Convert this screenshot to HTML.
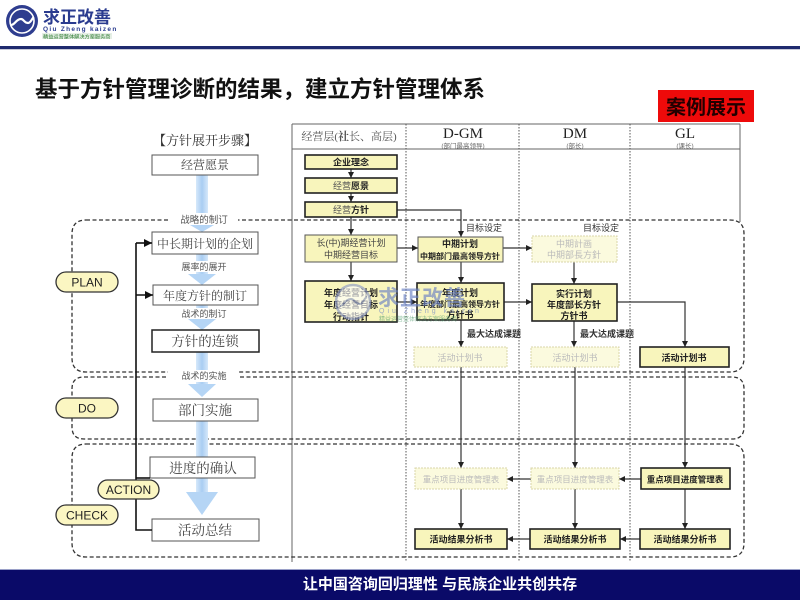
<!DOCTYPE html>
<html><head><meta charset="utf-8"><style>
html,body{margin:0;padding:0;background:#fff;}
svg{display:block;}
text{font-family:"Liberation Sans","Noto Sans CJK SC",sans-serif;}
.sf{font-family:"Liberation Serif","Noto Serif CJK SC",serif;}
</style></head><body>
<svg width="800" height="600" viewBox="0 0 800 600" xmlns="http://www.w3.org/2000/svg">
<defs>
<marker id="a" viewBox="0 0 10 10" refX="10" refY="5" markerWidth="6" markerHeight="6" markerUnits="userSpaceOnUse" orient="auto"><path d="M0,0 L10,5 L0,10 z" fill="#222"/></marker>
<marker id="b" viewBox="0 0 10 10" refX="10" refY="5" markerWidth="8" markerHeight="8" markerUnits="userSpaceOnUse" orient="auto"><path d="M0,0 L10,5 L0,10 z" fill="#111"/></marker>
<linearGradient id="bl" x1="0" x2="1" y1="0" y2="0"><stop offset="0" stop-color="#d6e8fa"/><stop offset="0.5" stop-color="#a9cdf2"/><stop offset="1" stop-color="#d6e8fa"/></linearGradient>
</defs>

<!-- header -->
<circle cx="22" cy="21" r="16" fill="#2e3d8f"/>
<circle cx="22" cy="21" r="12" fill="none" stroke="#fff" stroke-width="1.6"/>
<path d="M11,25 C15,25 16,19 21,19 C24,19 24,23 28,23 C31,23 32,18 34,17" fill="none" stroke="#fff" stroke-width="2.2"/>
<text x="43" y="23" font-size="17" font-weight="bold" fill="#2a3b8f">求正改善</text>
<text x="43" y="31" font-size="6.5" font-weight="bold" fill="#2a3b8f" letter-spacing="1.3">Qiu Zheng kaizen</text>
<rect x="42" y="33" width="70" height="6" fill="#e6efe6"/>
<text x="43" y="38.3" font-size="5.2" fill="#2e7d32">精益运营整体解决方案服务商</text>
<rect x="0" y="46" width="800" height="3" fill="#1f2a6e"/>
<rect x="0" y="49" width="800" height="1" fill="#c8cad8"/>

<!-- title -->
<text x="35" y="97" font-size="22.5" font-weight="bold" fill="#111">基于方针管理诊断的结果，建立方针管理体系</text>
<rect x="658" y="90" width="96" height="32" fill="#ee0a0a"/>
<text x="706" y="114" font-size="20" font-weight="bold" fill="#220000" text-anchor="middle">案例展示</text>

<!-- table structure -->
<g stroke="#666" stroke-width="1">
<line x1="292" y1="124" x2="740" y2="124"/>
<line x1="292" y1="149" x2="740" y2="149"/>
<line x1="292" y1="124" x2="292" y2="562"/>
<line x1="740" y1="124" x2="740" y2="222"/>
</g>
<g stroke="#555" stroke-width="1" stroke-dasharray="1.5,1.5">
<line x1="406" y1="124" x2="406" y2="562"/>
<line x1="519" y1="124" x2="519" y2="562"/>
<line x1="630" y1="124" x2="630" y2="562"/>
</g>
<text class="sf" x="349" y="140" font-size="11" fill="#555" text-anchor="middle">经营层(<tspan font-weight="bold">社</tspan>长、高层)</text>
<text class="sf" x="463" y="138" font-size="15" fill="#222" text-anchor="middle">D-GM</text>
<text x="463" y="148" font-size="6.5" fill="#666" text-anchor="middle">(部门最高领导)</text>
<text class="sf" x="575" y="138" font-size="15" fill="#222" text-anchor="middle">DM</text>
<text x="575" y="148" font-size="6.5" fill="#666" text-anchor="middle">(部长)</text>
<text class="sf" x="685" y="138" font-size="15" fill="#222" text-anchor="middle">GL</text>
<text x="685" y="148" font-size="6.5" fill="#666" text-anchor="middle">(课长)</text>

<!-- dashed regions -->
<g fill="none" stroke="#333" stroke-width="1.3" stroke-dasharray="4,2.5">
<path d="M86,220 L730,220 Q744,220 744,234 L744,358 Q744,372 730,372 L86,372 Q72,372 72,358 L72,234 Q72,220 86,220 Z"/>
<path d="M84,377 L732,377 Q744,377 744,389 L744,427 Q744,439 732,439 L84,439 Q72,439 72,427 L72,389 Q72,377 84,377 Z"/>
<path d="M86,444 L730,444 Q744,444 744,458 L744,543 Q744,557 730,557 L86,557 Q72,557 72,543 L72,458 Q72,444 86,444 Z"/>
</g>

<!-- left steps: blue arrows -->
<rect x="196" y="175" width="12" height="48" fill="url(#bl)"/>
<polygon points="190,225 214,225 202,232" fill="#b5d5f5"/>
<rect x="196" y="254" width="12" height="22" fill="url(#bl)"/>
<polygon points="188,274 216,274 202,285" fill="#b5d5f5"/>
<rect x="196" y="305" width="12" height="16" fill="url(#bl)"/>
<polygon points="188,319 216,319 202,330" fill="#b5d5f5"/>
<rect x="196" y="352" width="12" height="33" fill="url(#bl)"/>
<polygon points="188,384 216,384 202,397" fill="#b5d5f5"/>
<rect x="196" y="421" width="12" height="72" fill="url(#bl)"/>
<polygon points="186,492 218,492 202,515" fill="#b5d5f5"/>

<!-- step labels -->
<rect x="168" y="213" width="70" height="12" fill="#fff"/>
<text x="204" y="223" font-size="9.5" fill="#555" text-anchor="middle">战略的制订</text>
<rect x="172" y="261" width="64" height="11" fill="#fff"/>
<text x="204" y="270" font-size="9" fill="#555" text-anchor="middle">展率的展开</text>
<rect x="172" y="308" width="64" height="11" fill="#fff"/>
<text x="204" y="317" font-size="9" fill="#555" text-anchor="middle">战术的制订</text>
<rect x="168" y="370" width="70" height="12" fill="#fff"/>
<text x="204" y="379" font-size="9" fill="#555" text-anchor="middle">战术的实施</text>

<text class="sf" x="205" y="145" font-size="13" fill="#333" text-anchor="middle">【方针展开步骤】</text>
<g fill="#fff" stroke="#555" stroke-width="1">
<rect x="152" y="155" width="106" height="20"/>
<rect x="152" y="232" width="106" height="22"/>
<rect x="153" y="285" width="105" height="20"/>
<rect x="152" y="330" width="107" height="22" stroke="#222" stroke-width="1.5"/>
<rect x="153" y="399" width="105" height="22"/>
<rect x="150" y="457" width="105" height="21"/>
<rect x="152" y="519" width="107" height="22"/>
</g>
<g class="sf" font-size="12" fill="#444" text-anchor="middle">
<text class="sf" x="205" y="169">经营愿景</text>
<text class="sf" x="205" y="248">中长期计划的企划</text>
<text class="sf" x="205" y="300">年度方针的制订</text>
<text class="sf" x="205" y="346" font-size="13.5">方针的连锁</text>
<text class="sf" x="205" y="415" font-size="13.5">部门实施</text>
<text class="sf" x="203" y="473" font-size="13.5">进度的确认</text>
<text class="sf" x="205" y="535" font-size="13.5">活动总结</text>
</g>

<!-- feedback loop -->
<g fill="none" stroke="#111" stroke-width="1.6">
<polyline points="136,243 136,530 152,530"/>
<line x1="136" y1="243" x2="152" y2="243" marker-end="url(#b)"/>
<line x1="136" y1="295" x2="153" y2="295" marker-end="url(#b)"/>
<line x1="136" y1="478" x2="150" y2="478"/>
</g>

<!-- pills -->
<g fill="#fbf6c2" stroke="#333" stroke-width="1.3">
<rect x="56" y="272" width="62" height="20" rx="10"/>
<rect x="56" y="398" width="62" height="20" rx="10"/>
<rect x="98" y="480" width="61" height="19" rx="9.5"/>
<rect x="56" y="505" width="62" height="20" rx="10"/>
</g>
<g font-size="12" fill="#222" text-anchor="middle">
<text x="87" y="286.5">PLAN</text>
<text x="87" y="412.5">DO</text>
<text x="128.5" y="494">ACTION</text>
<text x="87" y="519.5">CHECK</text>
</g>

<!-- connectors in table -->
<g fill="none" stroke="#333" stroke-width="1.2">
<line x1="351" y1="169" x2="351" y2="178" marker-end="url(#a)"/>
<line x1="351" y1="193" x2="351" y2="202" marker-end="url(#a)"/>
<line x1="351" y1="217" x2="351" y2="235" marker-end="url(#a)"/>
<polyline points="397,210 461,210 461,237" marker-end="url(#a)"/>
<line x1="351" y1="262" x2="351" y2="281" marker-end="url(#a)"/>
<line x1="397" y1="248" x2="418" y2="248" marker-end="url(#a)"/>
<line x1="397" y1="302" x2="417" y2="302" marker-end="url(#a)"/>
<line x1="461" y1="262" x2="461" y2="283" marker-end="url(#a)"/>
<line x1="461" y1="320" x2="461" y2="347" marker-end="url(#a)"/>
<line x1="503" y1="248" x2="532" y2="248" marker-end="url(#a)"/>
<line x1="504" y1="302" x2="532" y2="302" marker-end="url(#a)"/>
<line x1="574" y1="262" x2="574" y2="284" marker-end="url(#a)"/>
<line x1="574" y1="321" x2="574" y2="347" marker-end="url(#a)"/>
<polyline points="617,302 685,302 685,347" marker-end="url(#a)"/>
<line x1="461" y1="367" x2="461" y2="468" marker-end="url(#a)"/>
<line x1="575" y1="367" x2="575" y2="468" marker-end="url(#a)"/>
<line x1="685" y1="367" x2="685" y2="468" marker-end="url(#a)"/>
<line x1="641" y1="479" x2="619" y2="479" marker-end="url(#a)"/>
<line x1="531" y1="479" x2="507" y2="479" marker-end="url(#a)"/>
<line x1="461" y1="489" x2="461" y2="529" marker-end="url(#a)"/>
<line x1="575" y1="489" x2="575" y2="529" marker-end="url(#a)"/>
<line x1="685" y1="489" x2="685" y2="529" marker-end="url(#a)"/>
<line x1="640" y1="539" x2="620" y2="539" marker-end="url(#a)"/>
<line x1="530" y1="539" x2="507" y2="539" marker-end="url(#a)"/>
</g>
<g font-size="9" fill="#333">
<text x="466" y="231">目标设定</text>
<text x="583" y="231">目标设定</text>
<text x="467" y="337" font-weight="bold">最大达成课题</text>
<text x="580" y="337" font-weight="bold">最大达成课题</text>
</g>

<!-- solid yellow boxes -->
<g fill="#f8f5bc" stroke="#222" stroke-width="1.6">
<rect x="305" y="155" width="92" height="14"/>
<rect x="305" y="178" width="92" height="15"/>
<rect x="305" y="202" width="92" height="15"/>
<rect x="305" y="235" width="92" height="27" stroke-width="1" stroke="#555"/>
<rect x="305" y="281" width="92" height="41"/>
<rect x="418" y="237" width="85" height="25" stroke-width="1" stroke="#555"/>
<rect x="417" y="283" width="87" height="37"/>
<rect x="532" y="284" width="85" height="37"/>
<rect x="640" y="347" width="89" height="20"/>
<rect x="641" y="468" width="89" height="21"/>
<rect x="415" y="529" width="92" height="20"/>
<rect x="530" y="529" width="90" height="20"/>
<rect x="640" y="529" width="90" height="20"/>
</g>
<!-- faded boxes -->
<g fill="#fbfade" stroke="#d8d5a8" stroke-width="1" stroke-dasharray="2,1">
<rect x="532" y="236" width="85" height="26"/>
<rect x="414" y="347" width="93" height="20"/>
<rect x="531" y="347" width="88" height="20"/>
<rect x="415" y="468" width="92" height="21"/>
<rect x="531" y="468" width="88" height="21"/>
</g>

<g font-size="9" fill="#222" text-anchor="middle" font-weight="bold">
<text x="351" y="165.5">企业理念</text>
<text x="351" y="189" font-weight="normal" fill="#555">经营<tspan font-weight="bold" fill="#222">愿景</tspan></text>
<text x="351" y="213" font-weight="normal" fill="#555">经营<tspan font-weight="bold" fill="#222">方针</tspan></text>
<text x="351" y="246" font-weight="normal" fill="#444">长(中)期经营计划</text>
<text x="351" y="258" font-weight="normal" fill="#444">中期经营目标</text>
<text x="351" y="296">年度经营计划</text>
<text x="351" y="308">年度经营目标</text>
<text x="351" y="320">行动指针</text>
<text x="460" y="247">中期计划</text>
<text x="460" y="259" font-size="8">中期部门最高领导方针</text>
<text x="460" y="296">年度计划</text>
<text x="460" y="307" font-size="8">年度部门最高领导方针</text>
<text x="460" y="318">方针书</text>
<text x="574" y="297">实行计划</text>
<text x="574" y="308">年度部长方针</text>
<text x="574" y="319">方针书</text>
<text x="684" y="361">活动计划书</text>
<text x="685" y="482.5" font-size="8.5">重点项目进度管理表</text>
<text x="461" y="542.5">活动结果分析书</text>
<text x="575" y="542.5">活动结果分析书</text>
<text x="685" y="542.5">活动结果分析书</text>
</g>
<g font-size="9" fill="#bbb" text-anchor="middle">
<text x="574" y="247">中期計画</text>
<text x="574" y="258">中期部長方針</text>
<text x="460" y="361">活动计划书</text>
<text x="575" y="361">活动计划书</text>
<text x="461" y="482.5" font-size="8.5">重点项目进度管理表</text>
<text x="575" y="482.5" font-size="8.5">重点项目进度管理表</text>
</g>

<!-- watermark -->
<g opacity="0.65">
<circle cx="353" cy="302" r="17" fill="#ffffff" stroke="#8e9ac8" stroke-width="2.5"/>
<path d="M340,306 C344,306 345,299 351,299 C355,299 355,304 360,304 C363,304 364,298 367,297" fill="none" stroke="#8e9ac8" stroke-width="2"/>
<text x="378" y="305" font-size="21" font-weight="bold" fill="#6a80c4" letter-spacing="1">求正改善</text>
<text x="379" y="313" font-size="7" fill="#6a80c4" letter-spacing="3">Qiu Zheng kaizen</text>
<text x="379" y="321" font-size="6" fill="#4f9a6a">精益运营整体解决方案服务商</text>
</g>

<!-- footer -->
<rect x="0" y="569" width="800" height="1" fill="#9aa0c8"/>
<rect x="0" y="570" width="800" height="30" fill="#0a0a68"/>
<text x="440" y="589" font-size="15" font-weight="bold" fill="#fff" text-anchor="middle">让中国咨询回归理性 与民族企业共创共存</text>
</svg>
</body></html>
